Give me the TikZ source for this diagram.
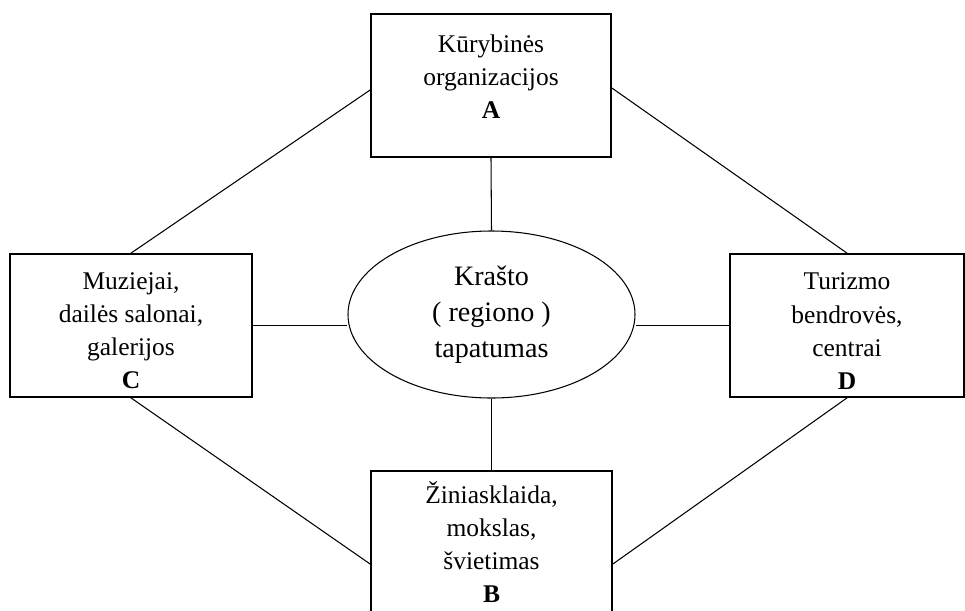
\documentclass[tikz,border=0pt]{standalone}
\usepackage{fontspec}
\setmainfont{Liberation Serif}
\usetikzlibrary{shapes.geometric}

\begin{document}
\begin{tikzpicture}[
	box/.style={draw, line width=1pt, inner sep=0pt, align=center, minimum height=2.86cm, font=\fontsize{14.5}{18.8}\selectfont},
	centre/.style={draw, ellipse, line width=0.6pt, inner sep=0pt, minimum width=5.74cm, minimum height=3.34cm, align=center, font=\fontsize{16}{20.4}\selectfont},
	link/.style={line width=0.6pt}]
% frame
	\useasboundingbox (0,0) rectangle (19.3,-12.2);
	\clip (0,0) rectangle (19.3,-12.2);

% centre
	\node[centre] (E) at (9.83,-6.29) {Krašto\\( regiono )\\tapatumas};

% boxes
	\node[box, minimum width=4.8cm] (A) at (9.82,-1.71) {Kūrybinės\\organizacijos\\\textbf{A}\rule[-0.35cm]{0pt}{0pt}};
	\node[box, minimum width=4.84cm] (C) at (2.62,-6.51) {\rule{0pt}{16pt}Muziejai,\\dailės salonai,\\galerijos\\\textbf{C}};
	\node[box, minimum width=4.68cm] (D) at (16.94,-6.51) {\rule{0pt}{16pt}Turizmo\\bendrovės,\\centrai\\\textbf{D}};
	\node[box, minimum width=4.82cm] (B) at (9.83,-10.85) {Žiniasklaida,\\mokslas,\\švietimas\\\textbf{B}};

% links to the centre
\draw[link] (A.south) -- (E.north);
\draw[link] (E.south) -- (B.north);
\draw[link] (C.east) -- (C.east -| E.west);
\draw[link] (D.west) -- (D.west -| E.east);

% outer ring
\draw[link] ([yshift=-0.09cm]A.west) -- (C.north);
\draw[link] ([yshift=-0.05cm]A.east) -- (D.north);
\draw[link] (C.south) -- ([yshift=-0.43cm]B.west);
\draw[link] (D.south) -- ([yshift=-0.43cm]B.east);

\end{tikzpicture}
\end{document}
